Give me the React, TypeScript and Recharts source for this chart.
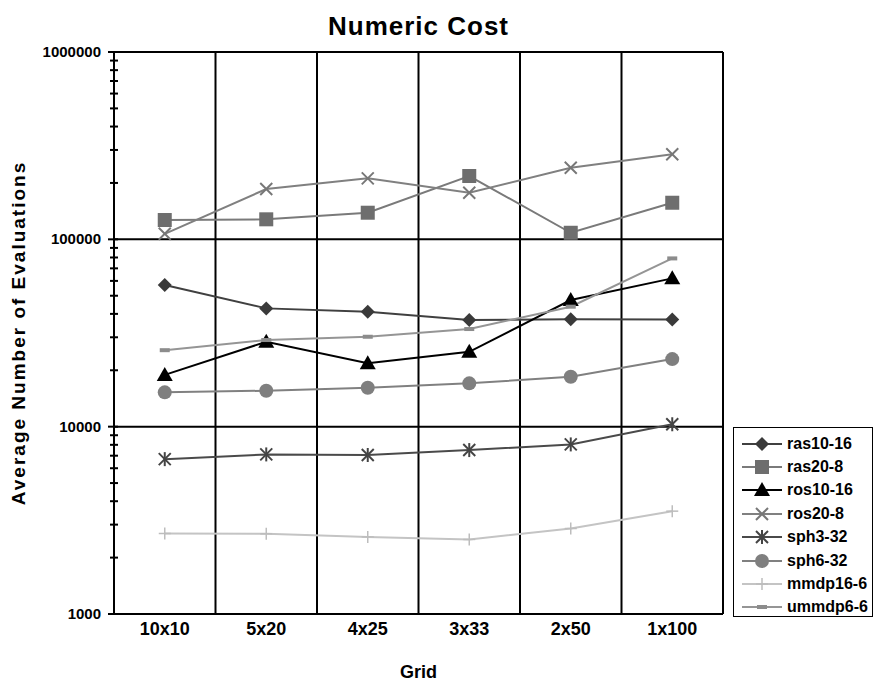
import { Legend, Line, LineChart, ReferenceLine, XAxis, YAxis } from "recharts";

const FONT = "'Liberation Sans', Arial, sans-serif";

const GRIDS = ["10x10", "5x20", "4x25", "3x33", "2x50", "1x100"];
const RAS10_16 = [57000, 42800, 41000, 37100, 37400, 37300];
const RAS20_8 = [126800, 127900, 138700, 217800, 108400, 156800];
const ROS10_16 = [18900, 28400, 21800, 25100, 47400, 61900];
const ROS20_8 = [107000, 185600, 211600, 177300, 241000, 284300];
const SPH3_32 = [6710, 7110, 7060, 7500, 8040, 10300];
const SPH6_32 = [15250, 15560, 16140, 17030, 18470, 22950];
const MMDP16_6 = [2690, 2680, 2580, 2500, 2860, 3540];
const UMMDP6_6 = [25600, 29000, 30200, 33200, 43700, 79100];

const Y_DECADES = [1000, 10000, 100000, 1000000];
const Y_MULT = [1, 2, 3, 4, 5, 6, 7, 8, 9];
const Y_TICKS = [...Y_DECADES.slice(0, -1).flatMap((d) => Y_MULT.map((m) => d * m)), 1000000];
const BOUNDS = [0, 1, 2, 3, 4, 5, 6];
const CENTERS = GRIDS.map((_, i) => i + 0.5);

type Shape = "diamond" | "square" | "triangle" | "x" | "star" | "circle" | "plus" | "dash";

const SERIES: { name: string; values: number[]; color: string; shape: Shape; mark: string }[] = [
  { name: "ras10-16", values: RAS10_16, color: "#404040", shape: "diamond", mark: "#3a3a3a" },
  { name: "ras20-8", values: RAS20_8, color: "#7a7a7a", shape: "square", mark: "#6e6e6e" },
  { name: "ros10-16", values: ROS10_16, color: "#000000", shape: "triangle", mark: "#000000" },
  { name: "ros20-8", values: ROS20_8, color: "#808080", shape: "x", mark: "#777777" },
  { name: "sph3-32", values: SPH3_32, color: "#4a4a4a", shape: "star", mark: "#444444" },
  { name: "sph6-32", values: SPH6_32, color: "#808080", shape: "circle", mark: "#7f7f7f" },
  { name: "mmdp16-6", values: MMDP16_6, color: "#c4c4c4", shape: "plus", mark: "#bdbdbd" },
  { name: "ummdp6-6", values: UMMDP6_6, color: "#959595", shape: "dash", mark: "#8c8c8c" },
];

const data = GRIDS.map((g, i) => {
  const row: Record<string, number | string> = { pos: CENTERS[i], grid: g };
  SERIES.forEach((s) => (row[s.name] = s.values[i]));
  return row;
});

function Marker({ cx, cy, shape, c }: { cx: number; cy: number; shape: Shape; c: string }) {
  switch (shape) {
    case "diamond":
      return <polygon points={`${cx},${cy - 7} ${cx + 7},${cy} ${cx},${cy + 7} ${cx - 7},${cy}`} fill={c} />;
    case "square":
      return <rect x={cx - 7} y={cy - 7} width={14} height={14} fill={c} />;
    case "triangle":
      return <polygon points={`${cx},${cy - 8} ${cx + 8},${cy + 6} ${cx - 8},${cy + 6}`} fill={c} />;
    case "x":
      return (
        <g stroke={c} strokeWidth={2}>
          <line x1={cx - 6} y1={cy - 6} x2={cx + 6} y2={cy + 6} />
          <line x1={cx - 6} y1={cy + 6} x2={cx + 6} y2={cy - 6} />
        </g>
      );
    case "star":
      return (
        <g stroke={c} strokeWidth={2}>
          <line x1={cx - 6} y1={cy - 6} x2={cx + 6} y2={cy + 6} />
          <line x1={cx - 6} y1={cy + 6} x2={cx + 6} y2={cy - 6} />
          <line x1={cx} y1={cy - 7} x2={cx} y2={cy + 7} />
        </g>
      );
    case "circle":
      return <circle cx={cx} cy={cy} r={7} fill={c} />;
    case "plus":
      return (
        <g stroke={c} strokeWidth={1.5}>
          <line x1={cx} y1={cy - 6} x2={cx} y2={cy + 6} />
          <line x1={cx - 6} y1={cy} x2={cx + 6} y2={cy} />
        </g>
      );
    case "dash":
      return <rect x={cx - 5} y={cy - 2} width={10} height={4} fill={c} />;
  }
}

function YTick({ x, y, payload }: any) {
  const major = Y_DECADES.includes(payload.value);
  return (
    <g>
      <line x1={major ? x - 6 : x - 4} x2={x + 4} y1={y} y2={y} stroke="#000" strokeWidth={2} />
      {major && (
        <text x={x - 13} y={y} dy={5} textAnchor="end" fontFamily={FONT} fontSize={15} fontWeight={700} fill="#000">
          {payload.value}
        </text>
      )}
    </g>
  );
}

function YLabel({ viewBox }: any) {
  const cx = viewBox.x + 18;
  const cy = viewBox.y + viewBox.height / 2;
  return (
    <text
      x={cx}
      y={cy}
      transform={`rotate(-90 ${cx} ${cy})`}
      dy={7}
      textAnchor="middle"
      fontFamily={FONT}
      fontSize={19}
      fontWeight={700}
      letterSpacing={2}
      fill="#000"
    >
      Average Number of Evaluations
    </text>
  );
}

function LegendBox({ payload }: any) {
  const names = (payload || []).map((p: any) => p.value);
  const rows = SERIES.filter((s) => names.includes(s.name));
  return (
    <div
      style={{
        border: "1.5px solid #000",
        background: "#fff",
        boxSizing: "border-box",
        width: 140,
        height: 190,
        paddingTop: 4,
        fontFamily: FONT,
      }}
    >
      {rows.map((s) => (
        <div key={s.name} style={{ display: "flex", alignItems: "center", height: 23.4 }}>
          <svg width={52} height={20} style={{ flex: "none" }}>
            <line x1={8} x2={48} y1={10} y2={10} stroke={s.color} strokeWidth={2} />
            <Marker cx={28} cy={10} shape={s.shape} c={s.mark} />
          </svg>
          <span style={{ fontSize: 16, fontWeight: 700, color: "#000", marginLeft: 1 }}>{s.name}</span>
        </div>
      ))}
    </div>
  );
}

export default function App() {
  return (
    <div style={{ position: "absolute", left: 0, top: 0, width: 875, height: 689, background: "#fff" }}>
      <svg width={875} height={50} style={{ position: "absolute", left: 0, top: 0 }}>
        <text x={418.5} y={35} textAnchor="middle" fontFamily={FONT} fontSize={26} fontWeight={700} letterSpacing={1} fill="#000">
          Numeric Cost
        </text>
      </svg>
      <LineChart width={875} height={689} data={data} margin={{ top: 52, right: 152, bottom: 0, left: 0 }}>
        <XAxis
          xAxisId="b"
          dataKey="pos"
          type="number"
          domain={[0, 6]}
          ticks={BOUNDS}
          interval={0}
          height={6}
          tick={false}
          tickSize={5}
          tickLine={{ stroke: "#000", strokeWidth: 1.5 }}
          axisLine={false}
        />
        <XAxis
          dataKey="pos"
          type="number"
          domain={[0, 6]}
          ticks={CENTERS}
          interval={0}
          height={69}
          tickFormatter={(v: number) => GRIDS[Math.floor(v)]}
          tickSize={0}
          tickMargin={8}
          tickLine={false}
          axisLine={false}
          tick={{ fontFamily: FONT, fontSize: 18, fontWeight: 700, fill: "#000" }}
          label={{
            value: "Grid",
            position: "insideBottom",
            offset: 5,
            style: { fontFamily: FONT, fontSize: 18, fontWeight: 700, fill: "#000" },
          }}
        />
        <YAxis
          type="number"
          scale="log"
          domain={[1000, 1000000]}
          ticks={Y_TICKS}
          interval={0}
          width={114}
          tickSize={0}
          tickMargin={0}
          tickLine={false}
          tick={<YTick />}
          axisLine={{ stroke: "#000", strokeWidth: 2 }}
          allowDataOverflow
          label={{ content: <YLabel /> }}
        />
        {Y_DECADES.map((v) => (
          <ReferenceLine key={"h" + v} y={v} stroke="#000" strokeWidth={2} />
        ))}
        {BOUNDS.map((v) => (
          <ReferenceLine key={"v" + v} x={v} stroke="#000" strokeWidth={2} />
        ))}
        <Legend
          layout="vertical"
          align="center"
          verticalAlign="middle"
          content={<LegendBox />}
          wrapperStyle={{ left: 733, top: 427, width: 140, height: 190 }}
        />
        {SERIES.map((s) => (
          <Line
            key={s.name}
            dataKey={s.name}
            name={s.name}
            stroke={s.color}
            strokeWidth={2}
            isAnimationActive={false}
            dot={(p: any) => <Marker key={s.name + p.index} cx={p.cx} cy={p.cy} shape={s.shape} c={s.mark} />}
            activeDot={false}
          />
        ))}
      </LineChart>
    </div>
  );
}
